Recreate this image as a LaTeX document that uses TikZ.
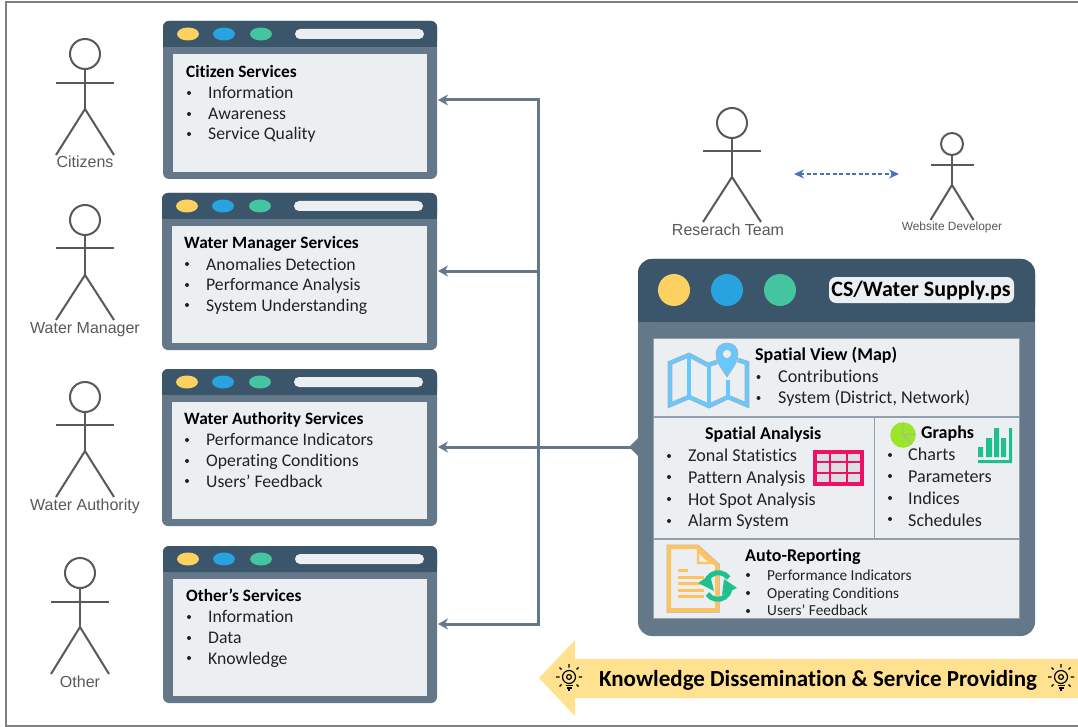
\documentclass[tikz,border=0pt]{standalone}
\usepackage{fontspec}
\setmainfont[Ligatures=CommonOff]{Carlito}
\newfontfamily\actorfont{Liberation Sans}
\usetikzlibrary{arrows.meta}
\definecolor{frameblue}{HTML}{64788A}
\definecolor{headblue}{HTML}{3B556B}
\definecolor{panel}{HTML}{EBEFF2}
\definecolor{dotyellow}{HTML}{FDD15F}
\definecolor{dotblue}{HTML}{29A3DF}
\definecolor{dotgreen}{HTML}{45C4A0}
\definecolor{stick}{HTML}{595959}
\definecolor{txt}{HTML}{222222}
\definecolor{banner}{HTML}{FFE18F}
\definecolor{mapblue}{HTML}{66C8FF}
\definecolor{tablered}{HTML}{EE0F66}
\definecolor{iconorange}{HTML}{FDC35F}
\definecolor{syncgreen}{HTML}{1FC08E}
\definecolor{piegreen}{HTML}{9BE62B}
\definecolor{dashblue}{HTML}{4472C4}
\definecolor{edgegray}{HTML}{A9AEB2}
\tikzset{
  ttl/.style={anchor=base west,inner sep=0pt,font=\fontsize{17.3}{17.3}\selectfont\bfseries,text=black},
  ttlb/.style={ttl,font=\fontsize{18}{18}\selectfont\bfseries},
  itm/.style={anchor=base west,inner sep=0pt,font=\fontsize{17.7}{17.7}\selectfont,text=txt},
  itmb/.style={itm,font=\fontsize{18.1}{18.1}\selectfont},
  sml/.style={anchor=base west,inner sep=0pt,font=\fontsize{15.3}{15.3}\selectfont,text=txt},
  actorlabel/.style={anchor=base,inner sep=0pt,font=\actorfont\fontsize{16}{16}\selectfont,text=stick},
  limb/.style={draw=stick,line width=2pt},
  link/.style={draw=frameblue,line width=3pt},
  linkarrow/.style={link,-{Stealth[length=10pt,width=11pt]}},
  cell/.style={draw=frameblue!70,line width=1pt,fill=panel},
}
\newcommand{\actorfig}[8]{%
  \coordinate (#1h) at (#2,#3);
  \draw[limb] (#2,#3) circle[radius=#4pt];
  \draw[limb] (#2,#3+#4) -- (#2,#6);
  \draw[limb] (#2-#8,#5) -- (#2+#8,#5);
  \draw[limb] (#2-#8,#7) -- (#2,#6) -- (#2+#8,#7);
}
\newcommand{\smallwin}[5]{%
  \fill[frameblue,rounded corners=6pt] (#2,#3) rectangle (#4,#5);
  \fill[headblue,rounded corners=6pt] (#2,#3) -- (#4,#3) -- (#4,#3+26) -- (#2,#3+26) -- cycle;
  \fill[headblue] (#2,#3+14) rectangle (#4,#3+26);
  \fill[panel] (#2+10,#3+33) rectangle (#4-10,#5-7);
  \fill[dotyellow] (#2+25,#3+13) ellipse[x radius=11pt,y radius=6.5pt];
  \fill[dotblue] (#2+61,#3+13) ellipse[x radius=11pt,y radius=6.5pt];
  \fill[dotgreen] (#2+98,#3+13) ellipse[x radius=11pt,y radius=6.5pt];
  \fill[panel,rounded corners=5pt] (#2+132,#3+8) rectangle (#2+261,#3+18);
  \coordinate (#1) at (#4+1,#3+79);
}
\newcommand{\bul}[2]{\fill[txt] (#1,#2) circle[radius=2pt];}
\newcommand{\bulb}[2]{%
  \begin{scope}[shift={(#1,#2)}]
    \draw[black,line width=1.2pt] (0,-1) circle[radius=6.5pt];
    \draw[black,line width=1.2pt] (0,-1) circle[radius=2.4pt];
    \draw[black,line width=1.5pt] (-3.5,7.5) -- (3.5,7.5) (-2.5,10) -- (2.5,10) (-1.2,12) -- (1.2,12);
    \draw[black,line width=1.1pt] (0,-14) -- (0,-10.5) (-9.5,-10.5) -- (-7.5,-8.5) (9.5,-10.5) -- (7.5,-8.5) (-13,-1) -- (-9.5,-1) (13,-1) -- (9.5,-1) (-9.5,8.5) -- (-7.5,6.5) (9.5,8.5) -- (7.5,6.5);
  \end{scope}
}
\begin{document}
\begin{tikzpicture}[x=1pt,y=-1pt]
\useasboundingbox (0,0) rectangle (1078,727);
\fill[white] (0,0) rectangle (1078,727);
\draw[gray,line width=2pt] (1078,2.5) -- (5.5,2.5) -- (5.5,725.7) -- (1078,725.7);

% actors
\actorfig{a1}{85}{54}{15}{83}{109}{155}{29}
\node[actorlabel] (l1) at (85,168) {Citizens};
\actorfig{a2}{85}{220}{15}{248}{275}{320}{29}
\node[actorlabel] (l2) at (85,333) {Water Manager};
\actorfig{a3}{85}{397}{15}{425}{451}{497}{29}
\node[actorlabel] (l3) at (85,510) {Water Authority};
\actorfig{a4}{80}{573}{15}{602}{627}{674}{29}
\node[actorlabel] (l4) at (80,687) {Other};
\actorfig{a5}{732}{123}{15}{151}{177}{222}{29}
\node[actorlabel] (l5) at (728,236) {Reserach Team};
\actorfig{a6}{952}{144}{11}{165.5}{185}{220}{21.5}
\node[actorlabel,font=\actorfont\fontsize{11.9}{11.9}\selectfont] (l6) at (952,231) {Website Developer};
\coordinate (devl) at (794,174);
\coordinate (devr) at (899,174);
\draw[draw=dashblue,line width=1.5pt,dash pattern=on 4pt off 2.5pt,{Stealth[length=10pt,width=9pt]}-{Stealth[length=10pt,width=9pt]}] (devl) -- (devr);

% small windows
\smallwin{w1}{163}{21}{437}{179}
\smallwin{w2}{162}{193}{437}{350}
\smallwin{w3}{162}{369}{437}{526}
\smallwin{w4}{163}{546}{437}{703}

\node[ttl] (t1) at (186,78) {Citizen Services};
\bul{189}{93}\node[itm] (t1a) at (208,99) {Information};
\bul{189}{114}\node[itm] (t1b) at (208,120) {Awareness};
\bul{189}{134}\node[itm] (t1c) at (208,140) {Service Quality};

\node[ttl] (t2) at (184,248) {Water Manager Services};
\bul{187}{264}\node[itm] (t2a) at (206,270) {Anomalies Detection};
\bul{187}{285}\node[itm] (t2b) at (206,290) {Performance Analysis};
\bul{187}{305}\node[itm] (t2c) at (206,311) {System Understanding};

\node[ttl] (t3) at (184,424) {Water Authority Services};
\bul{187}{440}\node[itm] (t3a) at (206,445) {Performance Indicators};
\bul{187}{461}\node[itm] (t3b) at (206,466) {Operating Conditions};
\bul{187}{481}\node[itm] (t3c) at (206,487) {Users’ Feedback};

\node[ttl] (t4) at (186,601) {Other’s Services};
\bul{189}{617}\node[itm] (t4a) at (208,622) {Information};
\bul{189}{638}\node[itm] (t4b) at (208,643) {Data};
\bul{189}{658}\node[itm] (t4c) at (208,664) {Knowledge};

% big window
\fill[frameblue,rounded corners=14pt] (638,259) rectangle (1035,636);
\fill[headblue,rounded corners=14pt] (638,259) -- (1035,259) -- (1035,322) -- (638,322) -- cycle;
\fill[headblue] (638,290) rectangle (1035,322);
\fill[frameblue] (640,436) -- (629,447) -- (640,458) -- cycle;
\coordinate (big) at (632,447);
\fill[dotyellow] (674,290) circle[radius=16pt];
\fill[dotblue] (727,290) circle[radius=16pt];
\fill[dotgreen] (780,290) circle[radius=16pt];
\fill[panel,rounded corners=7pt] (829,277) rectangle (1014,303);
\node[inner sep=0pt,font=\fontsize{22}{22}\selectfont\bfseries,text=black] (bigtitle) at (921,291) {CS/Water Supply.ps};

\draw[cell] (653,338) rectangle (1019,416);
\draw[cell] (653,417) rectangle (874,538);
\draw[cell] (874,417) rectangle (1019,538);
\draw[cell] (653,539) rectangle (1019,618);

\node[ttlb] (s1) at (755,360) {Spatial View (Map)};
\bul{758.5}{377}\node[itmb] (s1a) at (778,382) {Contributions};
\bul{758.5}{398}\node[itmb] (s1b) at (778,403) {System (District, Network)};

\node[ttlb] (s2) at (705,439) {Spatial Analysis};
\bul{669}{456}\node[itmb] (s2a) at (688,461) {Zonal Statistics};
\bul{669}{477}\node[itmb] (s2b) at (688,483) {Pattern Analysis};
\bul{669}{499}\node[itmb] (s2c) at (688,505) {Hot Spot Analysis};
\bul{669}{521}\node[itmb] (s2d) at (688,526) {Alarm System};

\node[ttlb] (s3) at (921,438) {Graphs};
\bul{890}{455}\node[itmb] (s3a) at (908,460) {Charts};
\bul{890}{476}\node[itmb] (s3b) at (908,482) {Parameters};
\bul{890}{498}\node[itmb] (s3c) at (908,504) {Indices};
\bul{890}{519}\node[itmb] (s3d) at (908,526) {Schedules};

\node[ttlb] (s4) at (745,561) {Auto-Reporting};
\bul{748}{575}\node[sml] (s4a) at (767,580) {Performance Indicators};
\bul{748}{593}\node[sml] (s4b) at (767,598) {Operating Conditions};
\bul{748}{611}\node[sml] (s4c) at (767,615) {Users’ Feedback};

% map icon
\foreach \col/\wd in {edgegray/4.6,mapblue/3.4}{
  \draw[\col,line width=\wd pt,line join=miter]
    (717,362) -- (708,365) -- (689,355) -- (670,363) -- (670,405) -- (689,397) -- (709,406) -- (728,397) -- (747,405) -- (747,363) -- (738,360);
  \draw[\col,line width=\wd pt] (689,355) -- (689,397) (709,365) -- (709,406) (728,380) -- (728,397);
}
\fill[mapblue,draw=edgegray,line width=0.6pt] (727,377) .. controls (719,365) and (716,361) .. (716,354) .. controls (716,347) and (721,343) .. (727,343) .. controls (733,343) and (738,347) .. (738,354) .. controls (738,361) and (735,365) .. (727,377) -- cycle;
\fill[panel,draw=edgegray,line width=0.6pt] (727,354) circle[radius=4.6pt];
% table icon
\fill[edgegray!40] (814,451) rectangle (863,485);
\draw[tablered,line width=2.4pt] (814,462) -- (863,462) (814,473) -- (863,473) (830,451) -- (830,485) (847,451) -- (847,485);
\draw[tablered,line width=3.2pt] (815,452) rectangle (862,484);
% pie icon
\fill[piegreen] (903,435) circle[radius=12.8pt];
\draw[edgegray,line width=0.8pt] (903,435) -- (903,422.5) (903,435) -- (915.5,434) (903,435) -- (912,444);
% bars icon
\fill[syncgreen] (978,447) rectangle (983,457) (986,438) rectangle (992,457) (994,428) rectangle (999,457) (1001,438) rectangle (1006,457) (1009,428) rectangle (1012,463) (978,460) rectangle (1012,463);
% document icon
\draw[edgegray,line width=5pt,line join=miter] (669,547) -- (697,547) -- (717,565) -- (717,610) -- (669,610) -- cycle;
\draw[panel,line width=2pt,fill=panel] (670,548) -- (697,548) -- (716,565) -- (716,609) -- (670,609) -- cycle;
\draw[iconorange,line width=4pt,line join=miter] (669,547) -- (697,547) -- (717,565) -- (717,610) -- (669,610) -- cycle;
\draw[iconorange,line width=2.4pt] (698,551) -- (698,563) -- (711,563) -- cycle;
\draw[iconorange,line width=3pt] (678,570.5) -- (688,570.5) (678,577) -- (704,577) (678,583.7) -- (704,583.7) (678,590) -- (704,590) (678,596.7) -- (704,596.7);
% sync icon
\draw[syncgreen,line width=5pt] (706,583) arc[start angle=170,end angle=35,radius=12.5pt];
\draw[syncgreen,line width=5pt] (730,589) arc[start angle=-10,end angle=-145,radius=12.5pt];
\fill[syncgreen] (698,583) -- (710,575) -- (714,591) -- cycle;
\fill[syncgreen] (737,588) -- (724,579) -- (722,595) -- cycle;

% connectors
\coordinate (trunktop) at (538,100);
\coordinate (trunkbot) at (538,624);
\coordinate (tap3) at (538,447);
\coordinate (tap2) at (538,271);
\draw[link] (trunktop |- 0,98.5) -- (trunkbot |- 0,625.5);
\draw[linkarrow] (big) -- (big -| w3);
\draw[linkarrow] (trunktop) -- (trunktop -| w1);
\draw[linkarrow] (tap2) -- (tap2 -| w2);
\draw[linkarrow] (trunkbot) -- (trunkbot -| w4);

% banner
\fill[banner] (539,678) -- (575,640) -- (575,659) -- (1078,659) -- (1078,698) -- (575,698) -- (575,716) -- cycle;
\node[inner sep=0pt,font=\fontsize{23}{23}\selectfont\bfseries,text=black] (ban) at (818,680) {Knowledge Dissemination \& Service Providing};
\bulb{569}{678}
\bulb{1061}{678}
\end{tikzpicture}
\end{document}
